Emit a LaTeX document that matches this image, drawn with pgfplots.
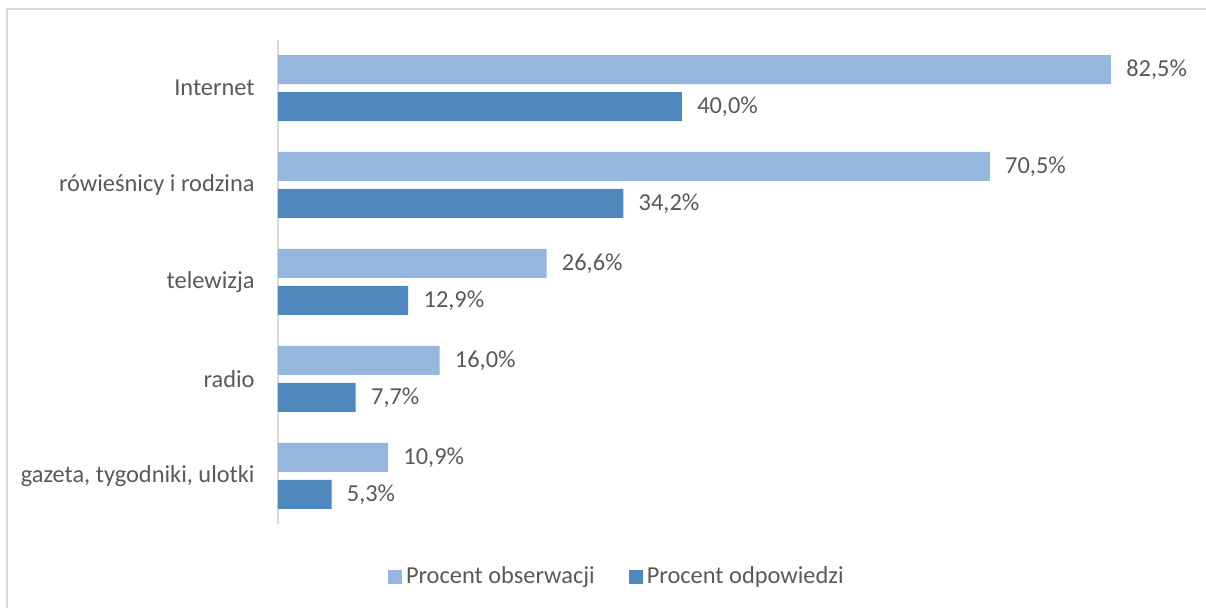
\documentclass[border=0pt]{standalone}
\usepackage{fontspec}
\setmainfont{Carlito}
\usepackage{pgfplots}
\pgfplotsset{compat=1.18}
\definecolor{lightbar}{HTML}{95B7DE}
\definecolor{darkbar}{HTML}{4F88BC}
\definecolor{txt}{HTML}{595959}
\definecolor{framec}{HTML}{D9D9D9}
\newcommand{\lblfont}{\fontsize{12.2pt}{14.5pt}\selectfont}
\begin{document}
\begin{tikzpicture}
\useasboundingbox (0pt,0pt) rectangle (603pt,304pt);
\draw[framec, line width=1pt] (3.5pt,-5pt) -- (3.5pt,299.5pt) -- (610pt,299.5pt);
\begin{axis}[
  at={(139pt,41.75pt)}, anchor=south west,
  scale only axis, width=454.35pt, height=242.5pt,
  xmin=0, xmax=90, ymin=-0.5, ymax=4.5,
  clip=false,
  xbar, bar width=14.5pt,
  axis x line=none,
  axis y line*=left,
  y axis line style={framec, line width=1pt, -},
  ytick={0,1,2,3,4},
  yticklabels={{gazeta, tygodniki, ulotki},radio,telewizja,{rówieśnicy i rodzina},Internet},
  major tick length=0pt,
  ytick style={draw=none},
  yticklabel style={font=\lblfont, text=txt, inner sep=0pt, xshift=-11.5pt},
  point meta=x,
  nodes near coords={\pgfmathprintnumber[fixed,fixed zerofill,precision=1,use comma,assume math mode=true]{\pgfplotspointmeta}\%},
  nodes near coords style={font=\lblfont, text=txt, anchor=west, inner sep=0pt, xshift=7.5pt},
  legend columns=2,
  legend style={draw=none, fill=none, at={(0.374,-0.108)}, anchor=center,
    font=\lblfont, text=txt,
    /tikz/every even column/.append style={column sep=15pt},
    nodes={inner xsep=2pt}},
  legend image code/.code={\draw[#1,draw=none] (0pt,-3.5pt) rectangle (7pt,3.5pt);},
]
\addplot[fill=lightbar, draw=none, bar shift=9.25pt] coordinates {
  (10.9,0) (16.0,1) (26.6,2) (70.5,3) (82.5,4)};
\addplot[fill=darkbar, draw=none, bar shift=-9.25pt] coordinates {
  (5.3,0) (7.7,1) (12.9,2) (34.2,3) (40.0,4)};
\legend{Procent obserwacji, Procent odpowiedzi}
\end{axis}
\end{tikzpicture}
\end{document}
